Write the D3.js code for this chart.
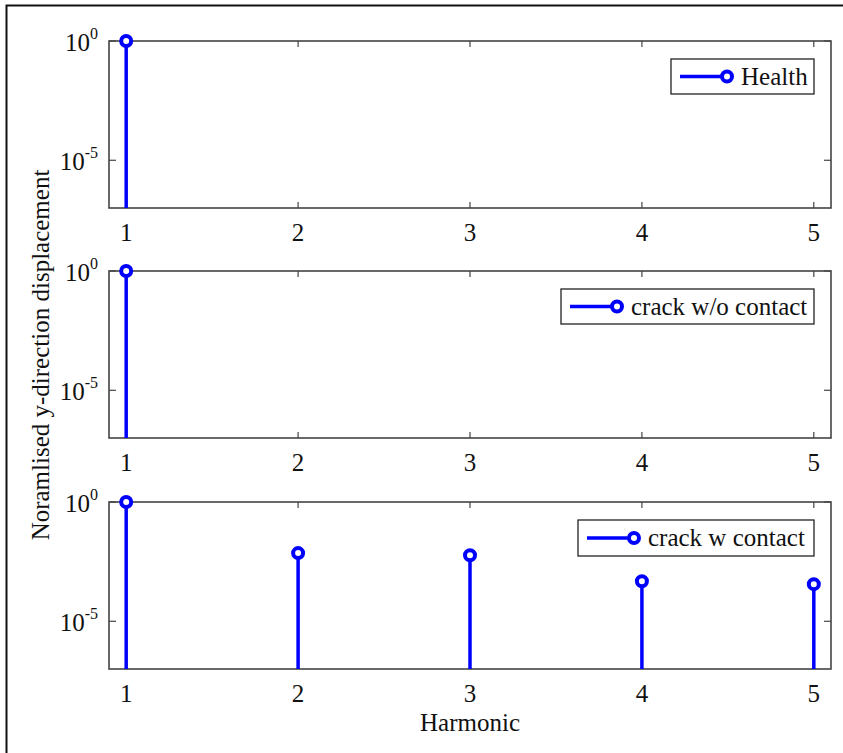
<!DOCTYPE html>
<html>
<head>
<meta charset="utf-8">
<script src="https://cdn.jsdelivr.net/npm/d3@7"></script>
<style>
  body { margin: 0; background: #fff; }
  text { font-family: 'Liberation Serif', 'Times New Roman', serif; fill: #111; }
</style>
</head>
<body>
<div id="chart"></div>
<script>
const harmonics = [1, 2, 3, 4, 5]
const seriesNames = ['Health', 'crack w/o contact', 'crack w contact']
// normalised amplitudes per harmonic (null = below the axis, not drawn)
const health = [1, null, null, null, null]
const crackNoContact = [1, null, null, null, null]
const crackContact = [1, 7.2e-3, 5.9e-3, 4.8e-4, 3.6e-4]
const yTicks = [1e-5, 1e0]
const yTickExp = ['-5', '0']

const panels = [health, crackNoContact, crackContact]

const dimensions = {
  width: 843,
  height: 753,
  margin: { left: 109, right: 12 },
  panelTops: [41, 271, 502],
  panelHeight: 167
}
const legendBoxes = [
  { x: 671, y: 59, w: 143, h: 35 },
  { x: 561, y: 289, w: 253, h: 35 },
  { x: 578, y: 520, w: 236, h: 36 }
]
const BLUE = '#0000ff'
const AXIS = '#444'
const FS = '25px'

const svg = d3.select('#chart').append('svg')
  .attr('width', dimensions.width)
  .attr('height', dimensions.height)

// outer frame
svg.append('path')
  .attr('d', `M6.5,${dimensions.height} V5.5 H${dimensions.width}`)
  .attr('fill', 'none')
  .attr('stroke', '#111')
  .attr('stroke-width', 2)

const plotW = dimensions.width - dimensions.margin.left - dimensions.margin.right
const x = d3.scaleLinear().domain([0.9, 5.1]).range([0, plotW])
const y = d3.scaleLog().domain([1e-7, 1]).range([dimensions.panelHeight, 0])

panels.forEach((vals, p) => {
  const g = svg.append('g')
    .attr('transform', `translate(${dimensions.margin.left}, ${dimensions.panelTops[p]})`)
  const h = dimensions.panelHeight

  // box
  g.append('rect')
    .attr('width', plotW).attr('height', h)
    .attr('fill', 'none').attr('stroke', AXIS).attr('stroke-width', 1.6)

  // x ticks (inward, top and bottom)
  harmonics.forEach(k => {
    g.append('line').attr('x1', x(k)).attr('x2', x(k)).attr('y1', h).attr('y2', h - 6)
      .attr('stroke', AXIS).attr('stroke-width', 1.2)
    g.append('line').attr('x1', x(k)).attr('x2', x(k)).attr('y1', 0).attr('y2', 6)
      .attr('stroke', AXIS).attr('stroke-width', 1.2)
    g.append('text')
      .attr('x', x(k)).attr('y', h + 33)
      .attr('text-anchor', 'middle')
      .attr('font-size', FS)
      .text(k)
  })

  // y ticks (inward, left and right)
  yTicks.forEach((t, i) => {
    g.append('line').attr('x1', 0).attr('x2', 7).attr('y1', y(t)).attr('y2', y(t))
      .attr('stroke', AXIS).attr('stroke-width', 1.2)
    g.append('line').attr('x1', plotW).attr('x2', plotW - 7).attr('y1', y(t)).attr('y2', y(t))
      .attr('stroke', AXIS).attr('stroke-width', 1.2)
    const lab = g.append('text')
      .attr('x', -11).attr('y', y(t) + 10)
      .attr('text-anchor', 'end')
      .attr('font-size', FS)
    lab.append('tspan').text('10')
    lab.append('tspan').attr('dy', -12).attr('font-size', '16px').text(yTickExp[i])
  })

  // stems
  const pts = harmonics.map((k, i) => ({ k, v: vals[i] })).filter(d => d.v !== null)
  g.selectAll('line.stem').data(pts).join('line')
    .attr('class', 'stem')
    .attr('x1', d => x(d.k)).attr('x2', d => x(d.k))
    .attr('y1', h).attr('y2', d => y(d.v))
    .attr('stroke', BLUE).attr('stroke-width', 3.5)
  g.selectAll('circle.mk').data(pts).join('circle')
    .attr('class', 'mk')
    .attr('cx', d => x(d.k)).attr('cy', d => y(d.v))
    .attr('r', 5)
    .attr('fill', '#fff')
    .attr('stroke', BLUE).attr('stroke-width', 4)

  // legend
  const lb = legendBoxes[p]
  const lg = svg.append('g').attr('transform', `translate(${lb.x}, ${lb.y})`)
  lg.append('rect').attr('width', lb.w).attr('height', lb.h)
    .attr('fill', '#fff').attr('stroke', '#222').attr('stroke-width', 1.3)
  lg.append('line').attr('x1', 9).attr('x2', 56).attr('y1', lb.h / 2).attr('y2', lb.h / 2)
    .attr('stroke', BLUE).attr('stroke-width', 3.5)
  lg.append('circle').attr('cx', 56).attr('cy', lb.h / 2).attr('r', 5)
    .attr('fill', '#fff').attr('stroke', BLUE).attr('stroke-width', 4)
  lg.append('text')
    .attr('x', 70).attr('y', lb.h / 2 + 8)
    .attr('font-size', FS)
    .text(seriesNames[p])
})

// axis titles
svg.append('text')
  .attr('transform', `translate(49, ${(dimensions.panelTops[0] + dimensions.panelTops[2] + dimensions.panelHeight) / 2}) rotate(-90)`)
  .attr('text-anchor', 'middle')
  .attr('font-size', FS)
  .text('Noramlised y-direction displacement')

svg.append('text')
  .attr('x', dimensions.margin.left + plotW / 2)
  .attr('y', 731)
  .attr('text-anchor', 'middle')
  .attr('font-size', FS)
  .text('Harmonic')
</script>
</body>
</html>
